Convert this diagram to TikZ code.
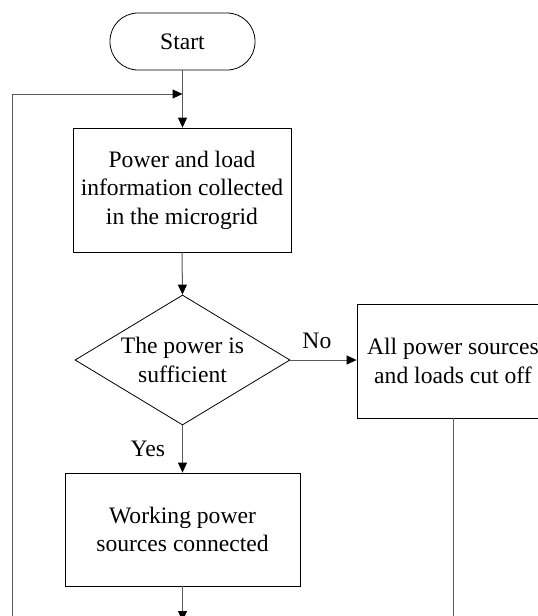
\documentclass[tikz,border=0pt]{standalone}
\usepackage{fontspec}
\setmainfont{Liberation Serif}
\usetikzlibrary{arrows.meta,shapes.geometric}

\begin{document}
\begin{tikzpicture}[x=1pt,y=-1pt,
  txt/.style={font=\fontsize{23.6}{28.5}\selectfont, align=center},
  stepbox/.style={txt, draw=black, line width=0.8pt, inner sep=0pt},
  terminal/.style={stepbox, rounded corners=28pt, minimum width=145pt, minimum height=57pt},
  decision/.style={txt, draw=black, line width=0.8pt, shape=diamond, aspect=1.65,
    inner sep=0pt, minimum width=215pt, minimum height=130pt},
  lbl/.style={txt, inner sep=0pt},
  conn/.style={draw=black!65, line width=1pt,
    -{Triangle[length=10pt,width=9pt,color=black]}},
  plain/.style={draw=black!65, line width=1pt}]

  % page frame
  \clip (0,0) rectangle (538,616);

  % flow steps
  \node[terminal] (start) at (182.5,41.5) {Start};
  \node[stepbox, minimum width=218pt, minimum height=124pt] (collect) at (182,190)
    {Power and load\\information collected\\in the microgrid};
  \node[decision] (check) at (182.5,360) {The power is\\sufficient};
  \node[stepbox, minimum width=192pt, minimum height=114pt] (cutoff) at (453,361)
    {All power sources\\and loads cut off};
  \node[stepbox, minimum width=235pt, minimum height=113pt] (connect) at (182.5,529.5)
    {Working power\\sources connected};

  % loose ends running off the lower edge
  \coordinate (merge) at (182.5,94);
  \coordinate (loopend) at (12,640);
  \coordinate (nextstep) at (182.5,621);
  \coordinate (cutend) at (453,640);

  % connectors
  \draw[conn] (start.south) -- (start.south |- collect.north);
  \draw[conn] (loopend) |- (merge);
  \draw[conn] (collect.south) -- (check.north);
  \draw[conn] (check.east) -- node[lbl, pos=0.4, above=11pt] {No} (check.east -| cutoff.west);
  \draw[conn] (check.south) -- node[lbl, midway, left=17pt] {Yes} (check.south |- connect.north);
  \draw[conn] (connect.south) -- (nextstep);
  \draw[plain] (cutoff.south) -- (cutend);
\end{tikzpicture}
\end{document}
